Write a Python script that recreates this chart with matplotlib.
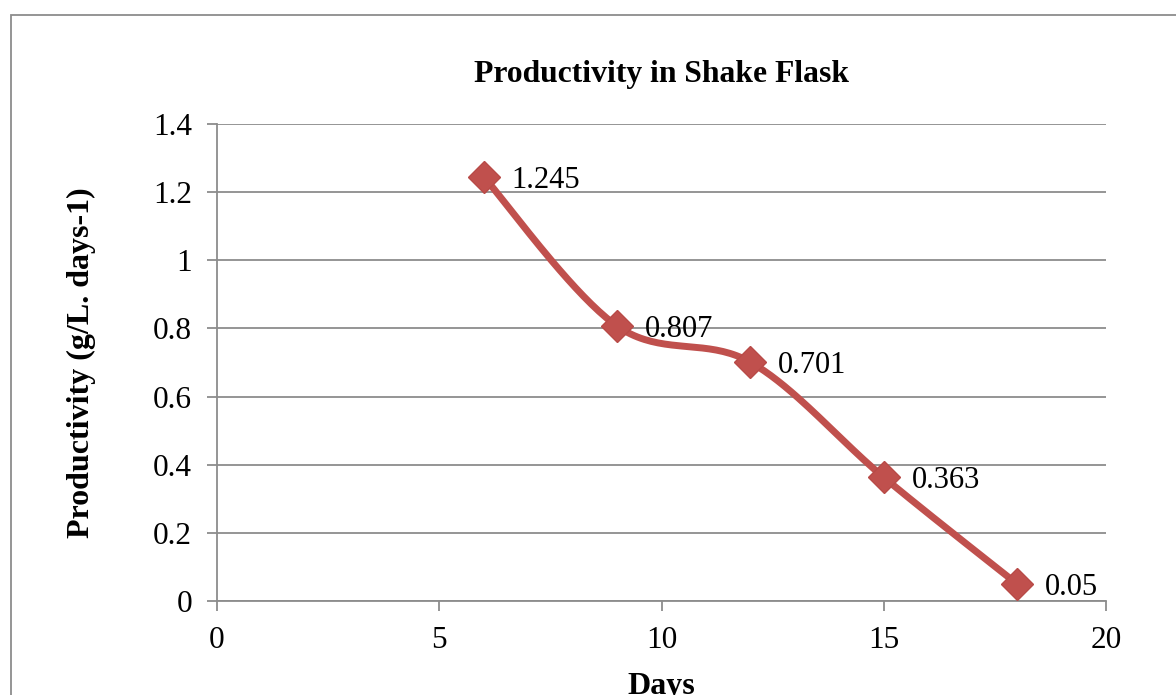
import numpy as np
import matplotlib
matplotlib.use("Agg")
import matplotlib.pyplot as plt
from matplotlib.patches import Rectangle

days = [6, 9, 12, 15, 18]
productivity = [1.245, 0.807, 0.701, 0.363, 0.05]
labels = ["1.245", "0.807", "0.701", "0.363", "0.05"]
x_ticks = [0, 5, 10, 15, 20]
y_ticks = [0, 0.2, 0.4, 0.6, 0.8, 1, 1.2, 1.4]
y_ticklabels = ["0", "0.2", "0.4", "0.6", "0.8", "1", "1.2", "1.4"]

plt.rcParams['font.family'] = ['Liberation Serif', 'DejaVu Serif']

W, H = 1176, 695
fig = plt.figure(figsize=(W/100, H/100), dpi=100)
ax = fig.add_axes([217/W, 1-601/H, (1106-217)/W, (601-124)/H])

# Excel-like smoothed line (Catmull-Rom Bezier)
def smooth(xs, ys, n=40):
    P = np.column_stack([xs, ys]).astype(float)
    out = []
    for i in range(len(P)-1):
        p0 = P[i-1] if i > 0 else P[i]
        p1 = P[i]
        p2 = P[i+1]
        p3 = P[i+2] if i+2 < len(P) else P[i+1]
        c1 = p1 + (p2 - p0)/6
        c2 = p2 - (p3 - p1)/6
        t = np.linspace(0, 1, n)[:, None]
        seg = (1-t)**3*p1 + 3*(1-t)**2*t*c1 + 3*(1-t)*t**2*c2 + t**3*p2
        out.append(seg if i == 0 else seg[1:])
    S = np.vstack(out)
    return S[:, 0], S[:, 1]

sx, sy = smooth(days, productivity)
ax.plot(sx, sy, color='#C0504D', lw=5, solid_capstyle='round', zorder=3)
ax.plot(days, productivity, ls='none', marker='D', ms=16, color='#C0504D',
        mec='#B84A47', zorder=4)
for x, y, l in zip(days, productivity, labels):
    ax.annotate(l, (x, y), xytext=(20, 0), textcoords='offset points',
                va='center_baseline', ha='left', fontsize=22, zorder=5)

ax.set_xlim(0, 20)
ax.set_ylim(0, 1.4)
ax.set_xticks(x_ticks)
ax.set_xticklabels([str(v) for v in x_ticks])
ax.set_yticks(y_ticks)
ax.set_yticklabels(y_ticklabels)
ax.grid(axis='y', color='#8C8C8C', lw=1.3)
ax.set_axisbelow(True)
for s in ['top', 'right']:
    ax.spines[s].set_visible(False)
for s in ['left', 'bottom']:
    ax.spines[s].set_color('#8C8C8C')
    ax.spines[s].set_linewidth(1.3)
ax.tick_params(axis='both', direction='out', length=7, width=1.3, color='#8C8C8C',
               labelsize=22.5)
ax.tick_params(axis='y', pad=11)
ax.tick_params(axis='x', pad=11)

ax.set_title("Productivity in Shake Flask", fontsize=22.8, fontweight='bold', pad=30)
ax.set_xlabel("Days", fontsize=23, fontweight='bold', labelpad=12.5)
ax.set_ylabel("Productivity (g/L. days-1)", fontsize=23, fontweight='bold', labelpad=41)

fig.patches.append(Rectangle((11/W, -0.05), 1.2, 1-15/H+0.05, transform=fig.transFigure,
                             fill=False, edgecolor='#8C8C8C', lw=1.3))

fig.savefig("out.png", dpi=100)
